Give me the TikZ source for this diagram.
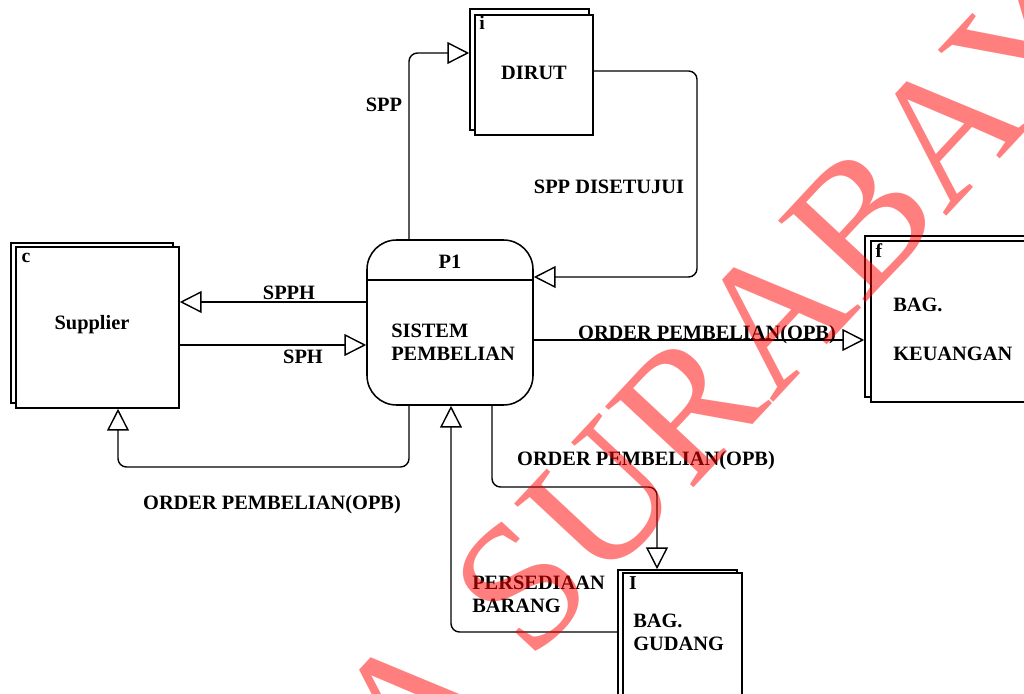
\documentclass[tikz,border=0pt]{standalone}
\usepackage{fontspec}
\setmainfont{Liberation Serif}
\usetikzlibrary{arrows.meta,fit}
\begin{document}
\begin{tikzpicture}[x=0.025cm,y=-0.025cm,
  lbl/.style={font=\bfseries\fontsize{14.5}{17}\selectfont, inner sep=0},
  tag/.style={font=\bfseries\fontsize{14}{16}\selectfont, inner sep=0},
  flow/.style={line width=1pt, rounded corners=6pt,
    -{Triangle[open,length=15.5pt,width=15.5pt]}},
  ent/.style={draw, line width=1.1pt, fill=white, inner sep=0},
  proc/.style={draw, line width=1.1pt, fill=white, inner sep=0, rounded corners=21pt},
]
\useasboundingbox (0,0) rectangle (1024,694);
\clip (0,0) rectangle (1024,694);

% external entities: a back sheet and a front sheet each
\node[ent, fit={(470,9) (589,130)}] (dirutB) {};
\node[ent, fit={(475,15) (593,135)}] (dirut) {};
\node[ent, fit={(11,243) (173,403)}] (supB) {};
\node[ent, fit={(16,247) (179,408)}] (sup) {};
\node[ent, fit={(865,236) (1040,397)}] (keuB) {};
\node[ent, fit={(871,241) (1040,402)}] (keu) {};
\node[ent, fit={(618,570) (737,710)}] (gudB) {};
\node[ent, fit={(623,573) (742,710)}] (gud) {};

% process
\node[proc, fit={(367,240) (533,405)}] (p1) {};
\draw[line width=1.1pt] (p1.west |- 0,280) -- (p1.east |- 0,280);

% entity and process texts
\node[tag] (ti) at (482,23) {i};
\node[lbl] (tdirut) at (534,73) {DIRUT};
\node[tag] (tc) at (26,258) {c};
\node[lbl] (tsup) at (92,325) {Supplier};
\node[lbl] (tp1) at (450,262) {P1};
\node[lbl, anchor=base west] (tsis) at (391,337) {SISTEM};
\node[lbl, anchor=base west] (tpem) at (391,361) {PEMBELIAN};
\node[tag] (tf) at (879,251) {f};
\node[lbl, anchor=base west] (tbag1) at (893,312) {BAG.};
\node[lbl, anchor=base west] (tkeu) at (893,361) {KEUANGAN};
\node[tag] (tl) at (633,583) {I};
\node[lbl, anchor=base west] (tbag2) at (633,627) {BAG.};
\node[lbl, anchor=base west] (tgud) at (633,650) {GUDANG};

% data flows
\draw[flow] (p1.north -| 409,0) |- (dirutB.west |- 0,53);
\draw[flow] (dirut.east |- 0,71) -| (697,277) -- (p1.east |- 0,277);
\draw[flow] (p1.west |- 0,302) -- (sup.east |- 0,302);
\draw[flow] (sup.east |- 0,345) -- (p1.west |- 0,345);
\draw[flow] (p1.south -| 409,0) |- (118,467) -- (sup.south -| 118,0);
\draw[flow] (p1.east |- 0,340) -- (keuB.west |- 0,340);
\draw[flow] (p1.south -| 492,0) |- (657,487) -- (gudB.north -| 657,0);
\draw[flow] (gudB.west |- 0,632) -| (p1.south -| 451,0);

% flow labels
\node[lbl, anchor=base] (lspp) at (384,112) {SPP};
\node[lbl, anchor=base] (lsppd) at (609,194) {SPP DISETUJUI};
\node[lbl, anchor=base] (lspph) at (289,300) {SPPH};
\node[lbl, anchor=base] (lsph) at (303,363) {SPH};
\node[lbl, anchor=base] (lopb1) at (272,509) {ORDER PEMBELIAN(OPB)};
\node[lbl, anchor=base] (lopb2) at (707,340) {ORDER PEMBELIAN(OPB)};
\node[lbl, anchor=base] (lopb3) at (646,465) {ORDER PEMBELIAN(OPB)};
\node[lbl, anchor=base west] (lpers) at (472,589) {PERSEDIAAN};
\node[lbl, anchor=base west] (lbar) at (472,612) {BARANG};

% watermark across the sheet
\node[rotate=47, text=red, text opacity=0.5, inner sep=0,
  font=\fontsize{130}{132}\selectfont, anchor=base] (wm) at (800,374) {A SURABAYA};
\end{tikzpicture}
\end{document}
